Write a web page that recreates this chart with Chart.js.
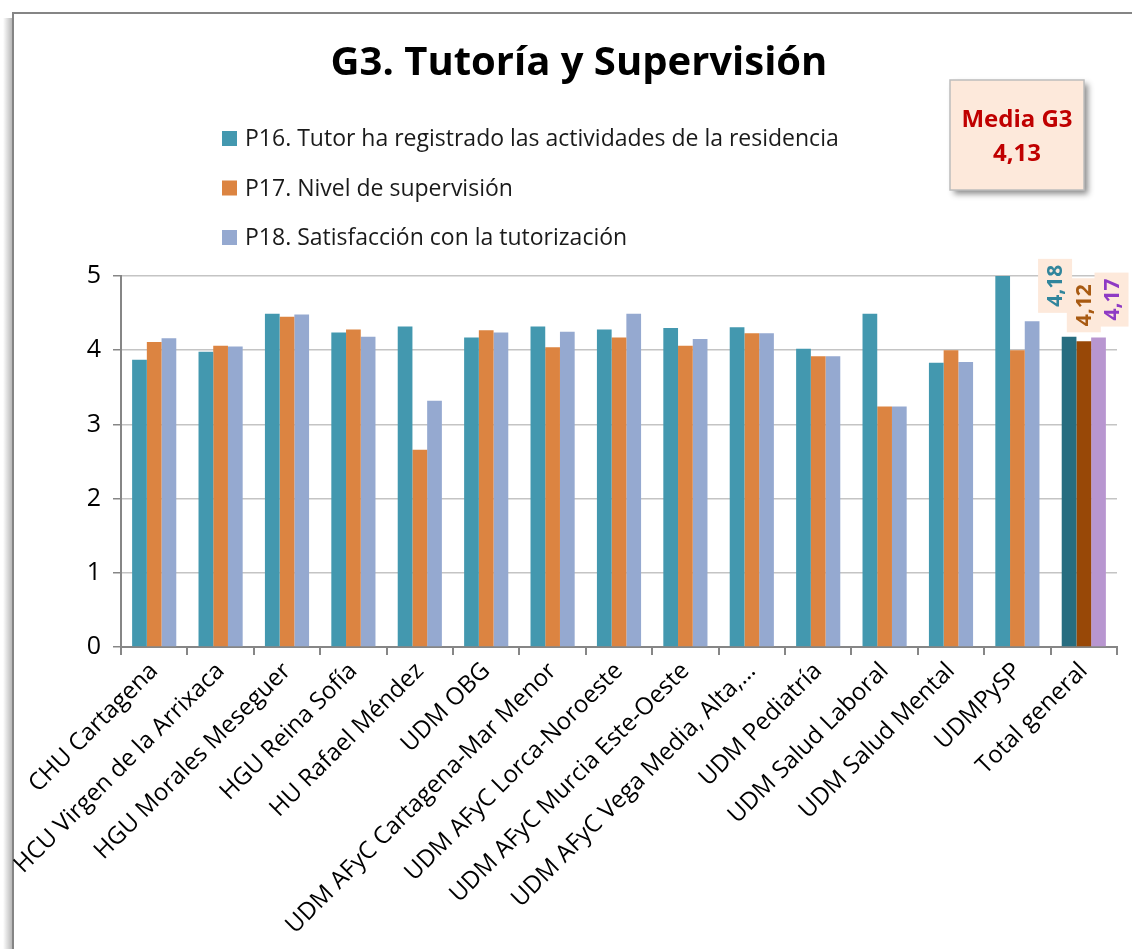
<!DOCTYPE html>
<html>
<head>
<meta charset="utf-8">
<script src="https://cdn.jsdelivr.net/npm/chart.js@4.4.1/dist/chart.umd.min.js"></script>
<style>
  html, body { margin: 0; padding: 0; background: #ffffff; }
  #wrap { width: 1132px; height: 949px; }
</style>
</head>
<body>
<div id="wrap"><canvas id="g3" width="1132" height="949"></canvas></div>
<script>
// datos del gráfico G3
const categorias = [
  "CHU Cartagena",
  "HCU Virgen de la Arrixaca",
  "HGU Morales Meseguer",
  "HGU Reina Sofía",
  "HU Rafael Méndez",
  "UDM OBG",
  "UDM AFyC Cartagena-Mar Menor",
  "UDM AFyC Lorca-Noroeste",
  "UDM AFyC Murcia Este-Oeste",
  "UDM AFyC Vega Media, Alta,…",
  "UDM Pediatría",
  "UDM Salud Laboral",
  "UDM Salud Mental",
  "UDMPySP",
  "Total general",
];
const p16 = [3.87, 3.98, 4.49, 4.24, 4.32, 4.17, 4.32, 4.28, 4.30, 4.31, 4.02, 4.49, 3.83, 5.0, 4.18];
const p17 = [4.11, 4.06, 4.45, 4.28, 2.66, 4.27, 4.04, 4.17, 4.06, 4.23, 3.92, 3.24, 4.0, 4.0, 4.12];
const p18 = [4.16, 4.05, 4.48, 4.18, 3.32, 4.24, 4.25, 4.49, 4.15, 4.23, 3.92, 3.24, 3.84, 4.39, 4.17];
const etiquetasSeries = [
  "P16. Tutor ha registrado las actividades de la residencia",
  "P17. Nivel de supervisión",
  "P18. Satisfacción con la tutorización",
];
const etiquetasTotal = ["4,18", "4,12", "4,17"];
const tituloTexto = "G3. Tutoría y Supervisión";
const mediaTexto = ["Media G3", "4,13"];
const yTicks = [0, 1, 2, 3, 4, 5];

// estilos
const FONT = "'Open Sans', 'Noto Sans', sans-serif";
const colores = ["#4398AF", "#DC8441", "#95A9D0"];
const coloresTotal = ["#276D80", "#984807", "#B896D0"];
const coloresEtiqueta = ["#31859C", "#A85A12", "#8E3AC4"];
const desplEtiqueta = [[-14, 24], [0, 9], [13, 11]]; // [dx, hueco] respecto a la barra

function colorPorBarra(base, total) {
  return categorias.map((c, i) => (i === categorias.length - 1 ? total : base));
}

// marco, título, leyenda y cuadro "Media G3"
const decoracion = {
  id: "decoracion",
  beforeDraw(chart) {
    const ctx = chart.ctx;
    ctx.save();
    ctx.fillStyle = "#ffffff";
    ctx.fillRect(0, 0, chart.width, chart.height);
    // sombra del marco
    const grad = ctx.createLinearGradient(3, 0, 12, 0);
    grad.addColorStop(0, "rgba(0,0,0,0)");
    grad.addColorStop(1, "rgba(0,0,0,0.28)");
    ctx.fillStyle = grad;
    ctx.fillRect(3, 18, 9, chart.height - 18);
    ctx.strokeStyle = "#858585";
    ctx.lineWidth = 2;
    ctx.beginPath();
    ctx.moveTo(13, chart.height);
    ctx.lineTo(13, 13);
    ctx.lineTo(chart.width, 13);
    ctx.stroke();
    ctx.restore();
  },
  afterDraw(chart) {
    const ctx = chart.ctx;
    ctx.save();
    // título
    ctx.fillStyle = "#000000";
    ctx.font = "bold 40px " + FONT;
    ctx.textAlign = "center";
    ctx.textBaseline = "middle";
    ctx.fillText(tituloTexto, 579, 64);

    // leyenda vertical
    ctx.font = "23px " + FONT;
    ctx.textAlign = "left";
    chart.data.datasets.forEach((ds, i) => {
      const y = 138.5 + i * 49.5;
      ctx.fillStyle = colores[i];
      ctx.fillRect(222, y - 7.5, 15, 15);
      ctx.fillStyle = "#1a1a1a";
      ctx.fillText(ds.label, 245, y + 1);
    });

    // cuadro Media G3
    ctx.save();
    ctx.shadowColor = "rgba(0,0,0,0.45)";
    ctx.shadowBlur = 6;
    ctx.shadowOffsetX = 4;
    ctx.shadowOffsetY = 4;
    ctx.fillStyle = "#FDE9DB";
    ctx.fillRect(950, 80, 134, 110);
    ctx.restore();
    ctx.strokeStyle = "#BDBDBD";
    ctx.lineWidth = 1.5;
    ctx.strokeRect(950, 80, 134, 110);
    ctx.fillStyle = "#C00000";
    ctx.font = "bold 24px " + FONT;
    ctx.textAlign = "center";
    ctx.fillText(mediaTexto[0], 1017, 120);
    ctx.fillText(mediaTexto[1], 1017, 154);
    ctx.restore();
  },
};

// etiquetas giradas de "Total general"
const etiquetasTotales = {
  id: "etiquetasTotales",
  afterDatasetsDraw(chart) {
    const ctx = chart.ctx;
    const last = categorias.length - 1;
    ctx.save();
    chart.data.datasets.forEach((ds, i) => {
      const bar = chart.getDatasetMeta(i).data[last];
      const cx = bar.x + desplEtiqueta[i][0];
      const bottom = bar.y - desplEtiqueta[i][1];
      const w = 34, h = 54;
      ctx.fillStyle = "#FDE9DB";
      ctx.fillRect(cx - w / 2, bottom - h, w, h);
      ctx.save();
      ctx.translate(cx, bottom - h / 2);
      ctx.rotate(-Math.PI / 2);
      ctx.fillStyle = coloresEtiqueta[i];
      ctx.font = "bold 21px " + FONT;
      ctx.textAlign = "center";
      ctx.textBaseline = "middle";
      ctx.fillText(etiquetasTotal[i], 0, 1);
      ctx.restore();
    });
    ctx.restore();
  },
};

const series = [p16, p17, p18];
new Chart(document.getElementById("g3").getContext("2d"), {
  type: "bar",
  data: {
    labels: categorias,
    datasets: series.map((valores, i) => ({
      label: etiquetasSeries[i],
      data: valores,
      backgroundColor: colorPorBarra(colores[i], coloresTotal[i]),
      borderWidth: 0,
      categoryPercentage: 0.665,
      barPercentage: 1.0,
    })),
  },
  options: {
    responsive: false,
    animation: false,
    layout: { padding: { top: 276, right: 15, bottom: 0, left: 0 } },
    scales: {
      x: {
        offset: true,
        grid: {
          offset: true,
          drawOnChartArea: false,
          drawTicks: true,
          tickLength: 8,
          color: "#868686",
          lineWidth: 2,
        },
        border: { display: true, color: "#868686", width: 2 },
        ticks: {
          autoSkip: false,
          minRotation: 45,
          maxRotation: 45,
          padding: 2,
          color: "#000000",
          font: { family: FONT, size: 24 },
        },
        afterFit: (scale) => { scale.height = 302; },
      },
      y: {
        min: 0,
        max: 5,
        afterBuildTicks: (scale) => { scale.ticks = yTicks.map((v) => ({ value: v })); },
        grid: {
          color: "#C4C4C4",
          lineWidth: 1.5,
          tickColor: "#868686",
          tickLength: 8,
        },
        border: { display: true, color: "#868686", width: 2 },
        ticks: {
          padding: 12,
          color: "#000000",
          font: { family: FONT, size: 25 },
        },
        afterFit: (scale) => { scale.width = 121; },
      },
    },
    plugins: {
      legend: { display: false },
      title: { display: false },
      tooltip: { enabled: false },
    },
  },
  plugins: [decoracion, etiquetasTotales],
});
</script>
</body>
</html>
